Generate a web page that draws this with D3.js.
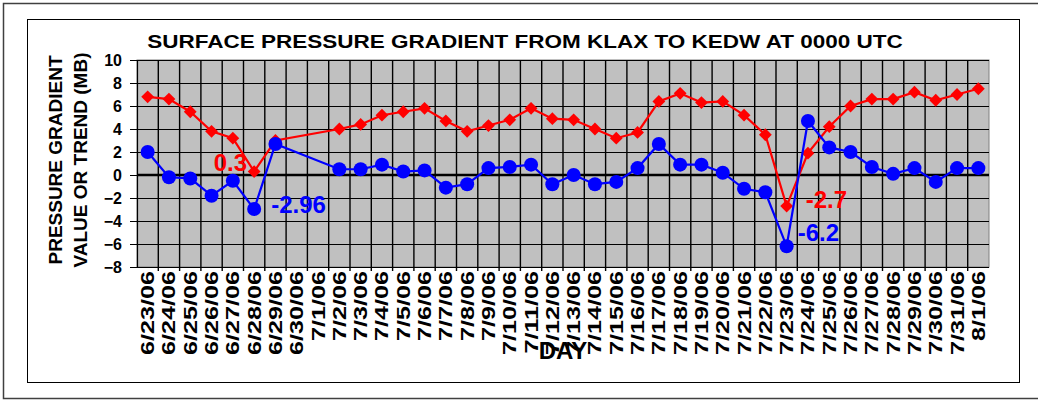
<!DOCTYPE html>
<html>
<head>
<meta charset="utf-8">
<script src="https://cdn.jsdelivr.net/npm/d3@7"></script>
<style>
  body { margin: 0; background: #fff; }
  text { font-family: "Liberation Sans", Arial, sans-serif; font-weight: bold; }
</style>
</head>
<body>
<svg id="chart" width="1038" height="401"></svg>
<script>
// days on the category axis
const days = [
  "6/23/06", "6/24/06", "6/25/06", "6/26/06", "6/27/06", "6/28/06", "6/29/06", "6/30/06",
  "7/1/06", "7/2/06", "7/3/06", "7/4/06", "7/5/06", "7/6/06", "7/7/06", "7/8/06",
  "7/9/06", "7/10/06", "7/11/06", "7/12/06", "7/13/06", "7/14/06", "7/15/06", "7/16/06",
  "7/17/06", "7/18/06", "7/19/06", "7/20/06", "7/21/06", "7/22/06", "7/23/06", "7/24/06",
  "7/25/06", "7/26/06", "7/27/06", "7/28/06", "7/29/06", "7/30/06", "7/31/06", "8/1/06"
];

// red diamonds - gradient value (mb)
const gradient = [
  6.8, 6.6, 5.5, 3.8, 3.2, 0.3, 3.0, null,
  null, 4.0, 4.4, 5.2, 5.5, 5.8, 4.7, 3.8,
  4.3, 4.8, 5.8, 4.9, 4.8, 4.0, 3.2, 3.7,
  6.4, 7.1, 6.3, 6.4, 5.2, 3.5, -2.7, 1.9,
  4.2, 6.0, 6.6, 6.6, 7.2, 6.5, 7.0, 7.5
];

// blue circles - trend (mb)
const trend = [
  2.0, -0.2, -0.3, -1.8, -0.5, -2.96, 2.7, null,
  null, 0.5, 0.5, 0.9, 0.3, 0.4, -1.1, -0.8,
  0.6, 0.7, 0.9, -0.8, 0.0, -0.8, -0.6, 0.6,
  2.7, 0.9, 0.9, 0.2, -1.2, -1.5, -6.2, 4.7,
  2.4, 2.0, 0.7, 0.1, 0.6, -0.6, 0.6, 0.6
];

const yTicks = [-8, -6, -4, -2, 0, 2, 4, 6, 8, 10];

// labelled extremes
const notes = [
  { day: "6/28/06", text: "0.3", series: "gradient" },
  { day: "6/28/06", text: "-2.96", series: "trend" },
  { day: "7/23/06", text: "-2.7", series: "gradient" },
  { day: "7/23/06", text: "-6.2", series: "trend" }
];

const svg = d3.select("#chart");
const plotL = 137, plotR = 989, plotT = 60, plotB = 267;

const x = d3.scaleBand().domain(days).range([plotL, plotR]);
const y = d3.scaleLinear().domain([-8, 10]).range([plotB, plotT]);
const cx = (d) => x(d) + x.bandwidth() / 2;

// frames
svg.append("rect").attr("x", 3.5).attr("y", 3.5).attr("width", 1040).attr("height", 395)
  .attr("fill", "none").attr("stroke", "#404040").attr("stroke-width", 1.5);
svg.append("rect").attr("x", 27.5).attr("y", 19.5).attr("width", 992).attr("height", 363)
  .attr("fill", "none").attr("stroke", "#000");

// plot area
svg.append("rect").attr("x", plotL).attr("y", plotT).attr("width", plotR - plotL).attr("height", plotB - plotT)
  .attr("fill", "#c0c0c0").attr("stroke", "#808080");

// gridlines
svg.append("g").selectAll("line").data(yTicks).join("line")
  .attr("x1", plotL).attr("x2", plotR)
  .attr("y1", (d) => Math.round(y(d)) + 0.5).attr("y2", (d) => Math.round(y(d)) + 0.5)
  .attr("stroke", "#000").attr("stroke-width", 1);
svg.append("g").selectAll("line").data(days.slice(1)).join("line")
  .attr("x1", (d) => x(d)).attr("x2", (d) => x(d))
  .attr("y1", plotT).attr("y2", plotB + 4)
  .attr("stroke", "#000").attr("stroke-width", 1.4);

// y axis
const yAxis = svg.append("g").attr("transform", `translate(${plotL},0)`)
  .call(d3.axisLeft(y).tickValues(yTicks).tickSize(7).tickPadding(8));
yAxis.select(".domain").attr("stroke", "#000").attr("stroke-width", 1.2);
yAxis.selectAll("text").attr("font-size", 16).attr("fill", "#000")
  .attr("font-family", "Liberation Sans, Arial, sans-serif").attr("font-weight", "bold");

// zero axis
svg.append("line").attr("x1", plotL).attr("x2", plotR).attr("y1", y(0)).attr("y2", y(0))
  .attr("stroke", "#000").attr("stroke-width", 2.5);

// x labels, rotated
svg.append("g").selectAll("text").data(days).join("text")
  .attr("transform", (d) => `translate(${cx(d) + 6.5},${plotB + 4}) rotate(-90) scale(1.36,1)`)
  .attr("text-anchor", "end").attr("font-size", 18.5).attr("fill", "#000")
  .text((d) => d);

// series lines + markers
const seriesDefs = [
  { name: "gradient", values: gradient, color: "#ff0000" },
  { name: "trend", values: trend, color: "#0000ff" }
];

seriesDefs.forEach((s) => {
  const pts = days.map((d, i) => ({ day: d, v: s.values[i] })).filter((p) => p.v != null);
  const line = d3.line().x((p) => cx(p.day)).y((p) => y(p.v));
  svg.append("path").datum(pts).attr("d", line)
    .attr("fill", "none").attr("stroke", s.color).attr("stroke-width", 2.2);
  const sym = s.name === "gradient" ? d3.symbol(d3.symbolSquare, 82) : d3.symbol(d3.symbolCircle, 155);
  svg.append("g").selectAll("path").data(pts).join("path")
    .attr("d", sym)
    .attr("transform", (p) => `translate(${cx(p.day)},${y(p.v)})` + (s.name === "gradient" ? " rotate(45)" : ""))
    .attr("fill", s.color);
});

// annotations
const noteOffsets = [[-7, -1, "end"], [17, 4, "start"], [19, 2, "start"], [11, -5, "start"]];
notes.forEach((n, i) => {
  const vals = n.series === "gradient" ? gradient : trend;
  const v = vals[days.indexOf(n.day)];
  const [dx, dy, anchor] = noteOffsets[i];
  svg.append("text")
    .attr("x", cx(n.day) + dx).attr("y", y(v) + dy)
    .attr("text-anchor", anchor).attr("font-size", 24)
    .attr("fill", n.series === "gradient" ? "#ff0000" : "#0000ff")
    .text(n.text);
});

// titles
svg.append("text").attr("transform", "translate(525,48) scale(1.25,1)")
  .attr("text-anchor", "middle").attr("font-size", 18).attr("fill", "#000")
  .text("SURFACE PRESSURE GRADIENT FROM KLAX TO KEDW AT 0000 UTC");

svg.append("text").attr("transform", "translate(62,160) rotate(-90)")
  .attr("text-anchor", "middle").attr("font-size", 19).attr("fill", "#000")
  .text("PRESSURE GRADIENT");
svg.append("text").attr("transform", "translate(87,160) rotate(-90)")
  .attr("text-anchor", "middle").attr("font-size", 19).attr("fill", "#000")
  .text("VALUE OR TREND (MB)");

svg.append("text").attr("x", 563).attr("y", 359)
  .attr("text-anchor", "middle").attr("font-size", 24).attr("fill", "#000")
  .text("DAY");
</script>
</body>
</html>
